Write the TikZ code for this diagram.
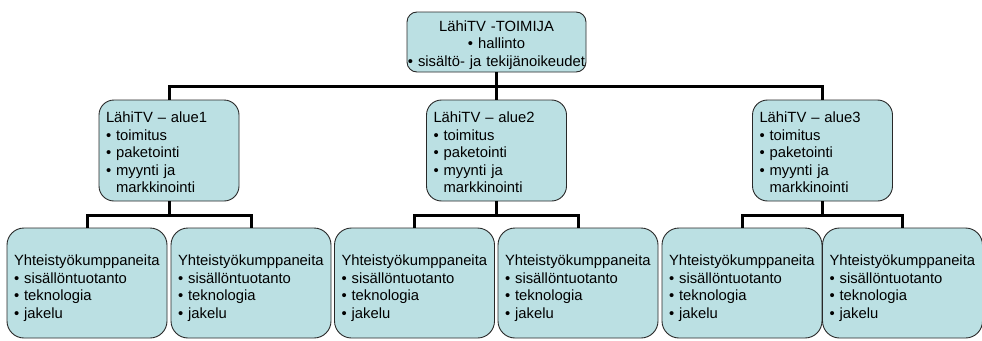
\documentclass[tikz,border=0pt]{standalone}
\usepackage{fontspec}
\setmainfont{Liberation Sans}
\definecolor{boxfill}{RGB}{187,224,227}
\definecolor{boxline}{RGB}{40,40,40}
\newcommand{\bl}{\textbullet\ }
\newcommand{\hang}{\phantom{\textbullet\ }}
\begin{document}
\begin{tikzpicture}[x=1pt,y=-1pt,
  every node/.style={font=\fontsize{14.8}{17.6}\selectfont},
  lower text/.style={execute at end node={\endgraf\vspace{-#1}}},
  orgbox/.style={draw=boxline, line width=0.9pt, fill=boxfill, inner sep=0pt},
  headbox/.style={orgbox, rounded corners=10pt, minimum width=179pt, minimum height=60pt, text width=179pt, align=center, lower text=6pt},
  areabox/.style={orgbox, rounded corners=15pt, minimum width=140pt, minimum height=101pt, inner xsep=7pt, text width=126pt, align=left, lower text=4pt},
  partnerbox/.style={orgbox, rounded corners=17pt, minimum width=160pt, minimum height=110pt, inner xsep=7pt, text width=146pt, align=left, lower text=10pt},
  conn/.style={line width=3pt}]
\useasboundingbox (0,0) rectangle (982,340);

% organisation head
\node[headbox] (top) at (496.5,42) {LähiTV -TOIMIJA\\ \bl hallinto\\ \bl sisältö- ja tekijänoikeudet};

% regional units
\node[areabox] (a1) at (169,150.5) {LähiTV – alue1\\ \bl toimitus\\ \bl paketointi\\ \bl myynti ja\\ \hang markkinointi};
\node[areabox] (a2) at (496.5,150.5) {LähiTV – alue2\\ \bl toimitus\\ \bl paketointi\\ \bl myynti ja\\ \hang markkinointi};
\node[areabox] (a3) at (822.5,150.5) {LähiTV – alue3\\ \bl toimitus\\ \bl paketointi\\ \bl myynti ja\\ \hang markkinointi};

% partners
\foreach \n/\x in {b1/87, b2/251, b3/414.5, b4/578, b5/742, b6/902.5}{
  \node[partnerbox] (\n) at (\x,283) {Yhteistyökumppaneita\\ \bl sisällöntuotanto\\ \bl teknologia\\ \bl jakelu};
}

% head to regions
\draw[conn] (top.south) -- ++(0,14) coordinate (tb);
\draw[conn] (a1.north) |- (tb) -| (a3.north);
\draw[conn] (tb) -- (a2.north);

% regions to partners
\draw[conn] (a1.south) -- ++(0,14) coordinate (m1);
\draw[conn] (b1.north) |- (m1) -| (b2.north);
\draw[conn] (a2.south) -- ++(0,14) coordinate (m2);
\draw[conn] (b3.north) |- (m2) -| (b4.north);
\draw[conn] (a3.south) -- ++(0,14) coordinate (m3);
\draw[conn] (b5.north) |- (m3) -| (b6.north);
\end{tikzpicture}
\end{document}
